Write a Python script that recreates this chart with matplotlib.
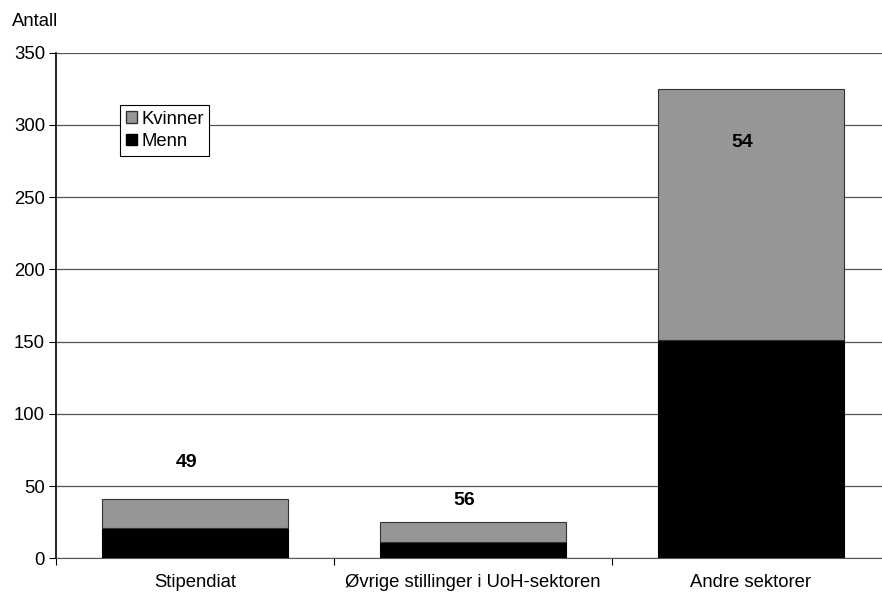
import matplotlib.pyplot as plt
from matplotlib.patches import Patch

plt.rcParams['font.family'] = ['Liberation Sans', 'DejaVu Sans']

categories = ['Stipendiat', 'Øvrige stillinger i UoH-sektoren', 'Andre sektorer']
menn = [21, 11, 151]
kvinner = [20, 14, 174]
pct_kvinner = ['49', '56', '54']

W, H = 882, 595
fig = plt.figure(figsize=(W / 100, H / 100), dpi=100)
# axes run past the right edge of the figure, like the source
ax = fig.add_axes([56 / W, (H - 558.3) / H, 834 / W, 505.6 / H])

x = range(len(categories))
ax.bar(x, menn, width=0.67, color='black', edgecolor='black', linewidth=0.8,
       zorder=3, label='Menn')
ax.bar(x, kvinner, width=0.67, bottom=menn, color='#969696', edgecolor='#333333',
       linewidth=0.8, zorder=3, label='Kvinner')

# percent labels, placed roughly where they sit in the original
offsets = [25, 15, -37]
for i in x:
    total = menn[i] + kvinner[i]
    ax.text(i - 0.03, total + offsets[i], pct_kvinner[i], ha='center', va='center',
            fontsize=14, fontweight='bold', zorder=4)

ax.set_xlim(-0.5, 2.5)
ax.set_ylim(0, 350)
ax.set_yticks(range(0, 351, 50))
ax.set_xticks([-0.5, 0.5, 1.5, 2.5])
ax.set_xticklabels([])
ax.set_xticks(list(x), minor=True)
ax.set_xticklabels(categories, minor=True)
ax.tick_params(axis='x', which='major', length=5, direction='out', width=0.8)
ax.tick_params(axis='x', which='minor', length=0, pad=11, labelsize=13.3)
ax.tick_params(axis='y', length=5, width=0.8, labelsize=13.3, pad=3)

ax.grid(axis='y', color='#555555', linewidth=0.9, zorder=0)
for s in ['top', 'right']:
    ax.spines[s].set_visible(False)
ax.spines['left'].set_linewidth(1.2)
ax.spines['bottom'].set_color('#555555')

fig.text(12 / W, 1 - 22 / H, 'Antall', fontsize=13.3, va='center', ha='left')

handles = [Patch(facecolor='#969696', edgecolor='#333333', label='Kvinner'),
           Patch(facecolor='black', edgecolor='black', label='Menn')]
leg = ax.legend(handles=handles, loc='upper left',
                bbox_to_anchor=((120 - 56) / 834, (558.3 - 105) / 505.6),
                borderaxespad=0, fontsize=13.3, fancybox=False, framealpha=1,
                edgecolor='black', handlelength=0.6, handleheight=0.6,
                handletextpad=0.25, borderpad=0.3, labelspacing=0.3)
leg.get_frame().set_linewidth(0.8)

fig.savefig('out.png', dpi=100)
